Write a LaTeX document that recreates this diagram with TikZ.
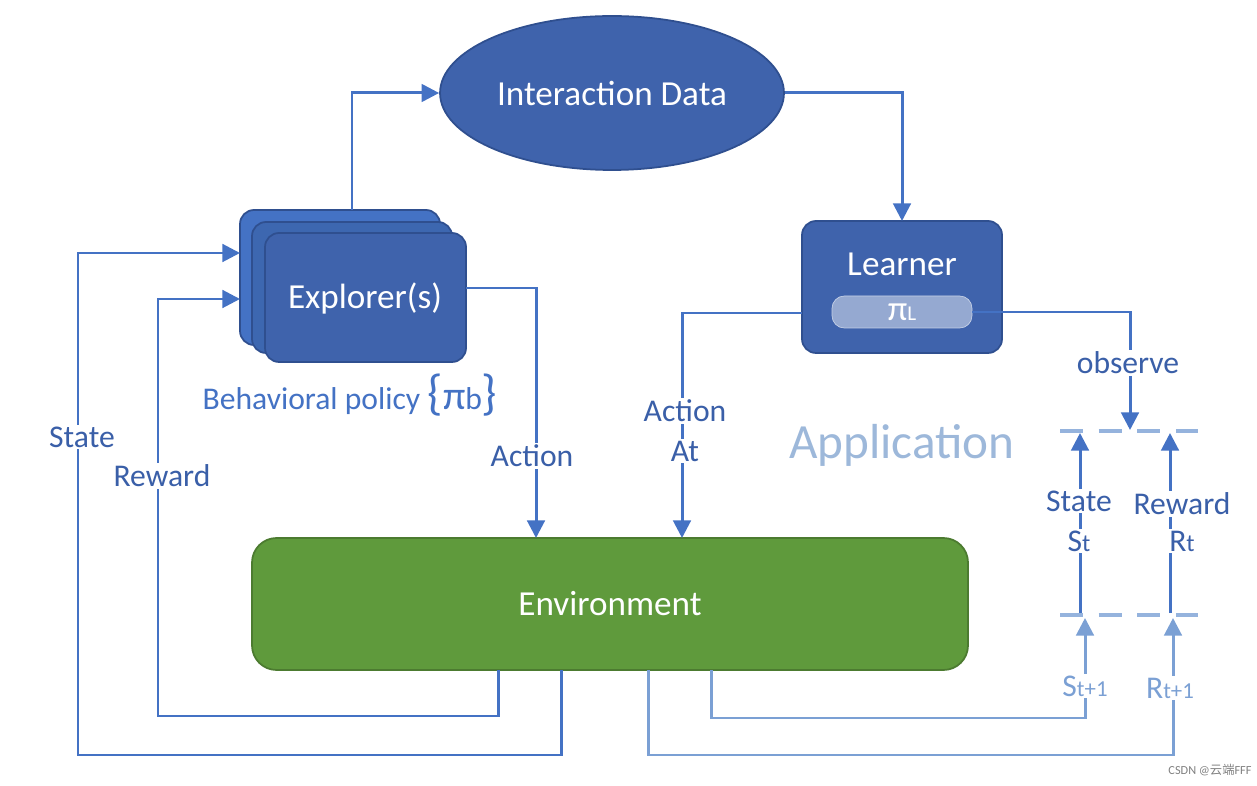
\documentclass[tikz,border=0pt]{standalone}
\usepackage{fontspec}
\setmainfont{Carlito}
\newfontfamily\cjk{Noto Sans CJK SC}
\usetikzlibrary{shapes.geometric,arrows.meta}
\definecolor{boxblue}{HTML}{3F63AC}
\definecolor{edgeblue}{HTML}{2F4F8F}
\definecolor{lineblue}{HTML}{4472C4}
\definecolor{paleblue}{HTML}{7BA0D4}
\definecolor{appblue}{HTML}{9DB8DA}
\definecolor{envgreen}{HTML}{5F9A3C}
\definecolor{txtblue}{HTML}{3A5FA8}
\tikzset{
  box/.style={draw=edgeblue,fill=boxblue,rounded corners=8pt,line width=1pt},
  wire/.style={draw=lineblue,line width=1.7pt,-{Triangle[length=10pt,width=10pt]}},
  pale/.style={draw=paleblue,line width=1.7pt,-{Triangle[length=10pt,width=10pt]}},
  lab/.style={text=txtblue,font=\fontsize{18}{20}\selectfont,fill=white,inner sep=1pt},
  big/.style={text=white,font=\fontsize{20}{24}\selectfont},
}
\begin{document}
\begin{tikzpicture}[x=0.02cm,y=-0.02cm]
        \useasboundingbox (0,0) rectangle (1257,786);
        % Interaction data
        \node[ellipse,draw=edgeblue,fill=boxblue,line width=1pt,
              inner sep=0pt,minimum width=6.88cm,minimum height=3.08cm,big] (data) at (612,93) {Interaction Data};
        % Explorers, stacked
        \draw [box,fill=lineblue] (240,210) rectangle (440,345);
        \draw [box,fill=lineblue!90!black] (252,222) rectangle (452,353);
        \draw [box] (265,233) rectangle (466,362);
        \node[big] (expl) at (365,298) {Explorer(s)};
        \coordinate (expltop) at (352,210);
        \coordinate (explright) at (466,288);
        \coordinate (explin1) at (240,253);
        \coordinate (explin2) at (240,299);
        \node[text=lineblue,font=\fontsize{18}{20}\selectfont] (behav) at (350,395)
              {Behavioral policy {\fontsize{28}{28}\selectfont\{}{\fontsize{23}{23}\selectfont π}b{\fontsize{28}{28}\selectfont\}}};
        % Learner
        \draw [box] (802,221) rectangle (1002,353);
        \node[big] (learn) at (902,264) {Learner};
        \node[draw=white!70!boxblue,fill=white!45!boxblue,rounded corners=7pt,minimum width=2.8cm,
              minimum height=0.64cm,inner sep=0pt,text=white,font=\fontsize{20}{20}\selectfont] (pol) at (902,312) {π{\fontsize{12}{12}\selectfont L}};
        \coordinate (learnleft) at (802,313);
        \coordinate (learntop) at (902,221);
        % Environment
        \draw [box,draw=envgreen!80!black,fill=envgreen,rounded corners=14pt] (252,538) rectangle (968,670);
        \node[big] (env) at (610,604) {Environment};
        % Connectors
        \draw [wire] (expltop) |- (data.west);
        \draw [wire] (data.east) -| (learntop);
        \draw [wire] (explright) -| (536,538);
        \draw [wire] (learnleft) -| (682,538);
        \draw [wire] (pol.east) -| (1130,430);
        \draw [wire] (561,670) |- (78,755) |- (explin1);
        \draw [wire] (498,670) |- (158,716) |- (explin2);
        \draw [pale] (711,670) |- (1085,718) -- (1085,618);
        \draw [pale] (648,670) |- (1173,755) -- (1173,618);
        \draw [paleblue!80,line width=2.8pt,dash pattern=on 13pt off 9pt] (1060,431) -- (1198,431);
        \draw [paleblue!80,line width=2.8pt,dash pattern=on 13pt off 9pt] (1060,615) -- (1198,615);
        \draw [wire] (1080,613) -- (1080,433);
        \draw [wire] (1170,613) -- (1170,433);
        % Labels
        \node[lab] (la) at (532,456) {Action};
        \node[lab] (lb) at (685,411) {Action};
        \node[lab] (lc) at (685,451) {At};
        \node[lab] (ld) at (1128,363) {observe};
        \node[lab] (le) at (82,437) {State};
        \node[lab] (lf) at (162,476) {Reward};
        \node[lab] (lg) at (1079,501) {State};
        \node[lab] (lh) at (1079,541) {S{\fontsize{14}{14}\selectfont t}};
        \node[lab] (li) at (1182,504) {Reward};
        \node[lab] (lj) at (1182,541) {R{\fontsize{14}{14}\selectfont t}};
        \node[lab,text=paleblue] (lk) at (1085,686) {S{\fontsize{13}{13}\selectfont t+1}};
        \node[lab,text=paleblue] (ll) at (1170,688) {R{\fontsize{13}{13}\selectfont t+1}};
        \node[text=appblue,font=\fontsize{28}{32}\selectfont] (app) at (902,445) {Application};
        \node[text=gray,font=\fontsize{7}{8}\selectfont] (mark) at (1210,770) {CSDN @{\cjk 云端}FFF};
\end{tikzpicture}
\end{document}
